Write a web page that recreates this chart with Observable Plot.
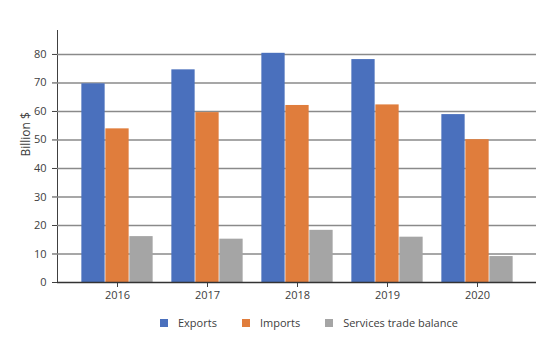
<!DOCTYPE html>
<html>
<head>
<meta charset="utf-8">
<script src="https://cdn.jsdelivr.net/npm/d3@7"></script>
<script src="https://cdn.jsdelivr.net/npm/@observablehq/plot@0.6"></script>
<style>
  body { margin: 0; background: #fff; font-family: "Open Sans", sans-serif; }
  #legend { display: flex; position: absolute; top: 315px; left: 160px; font-size: 11px; color: #404040; }
  .item { display: flex; align-items: center; margin-right: 25px; }
  .sw { width: 8px; height: 8px; margin-right: 10px; }
</style>
</head>
<body>
<div id="chart"></div>
<div id="legend"></div>
<script>
const years = ["2016", "2017", "2018", "2019", "2020"];
const seriesNames = ["Exports", "Imports", "Services trade balance"];
const exportsVals = [69.7, 74.6, 80.4, 78.2, 58.9];
const importsVals = [53.9, 59.6, 62.1, 62.3, 50.1];
const servicesVals = [16.1, 15.2, 18.3, 15.9, 9.1];
const yTicks = [0, 10, 20, 30, 40, 50, 60, 70, 80];
const colors = ["#4a70bd", "#e07d3c", "#a5a5a5"];

const seriesVals = [exportsVals, importsVals, servicesVals];
const tables = seriesVals.map(vals => years.map((y, i) => ({year: y, value: vals[i]})));

const barW = 24;
const step = 90.7;
const inset = (step - barW) / 2;

const plot = Plot.plot({
  width: 555,
  height: 310,
  marginLeft: 57,
  marginRight: 19,
  marginTop: 30,
  marginBottom: 28,
  style: { fontFamily: "Open Sans, sans-serif", fontSize: "11px", color: "#404040", background: "#fff" },
  x: { domain: years, range: [57, 536], paddingInner: 0, paddingOuter: 0.1405, label: null, tickSize: 5, tickPadding: 4 },
  y: { domain: [0, 88.4], ticks: yTicks, tickSize: 5, tickPadding: 6, label: null, line: true },
  marks: [
    Plot.ruleY(yTicks.filter(d => d > 0), { stroke: "#8a8a8a", strokeWidth: 1.5 }),
    ...tables.map((t, k) => Plot.barY(t, {
      x: "year", y: "value", fill: colors[k],
      insetLeft: inset, insetRight: inset, dx: (k - 1) * barW
    })),
    Plot.ruleY([0], { stroke: "#333", strokeWidth: 1.5 }),
    Plot.text(["Billion $"], { frameAnchor: "left", rotate: -90, dx: -31, fontSize: 12, fill: "#404040" })
  ]
});
document.getElementById("chart").appendChild(plot);

const legend = document.getElementById("legend");
seriesNames.forEach((n, k) => {
  const it = document.createElement("div");
  it.className = "item";
  it.innerHTML = `<span class="sw" style="background:${colors[k]}"></span><span>${n}</span>`;
  legend.appendChild(it);
});
</script>
</body>
</html>
